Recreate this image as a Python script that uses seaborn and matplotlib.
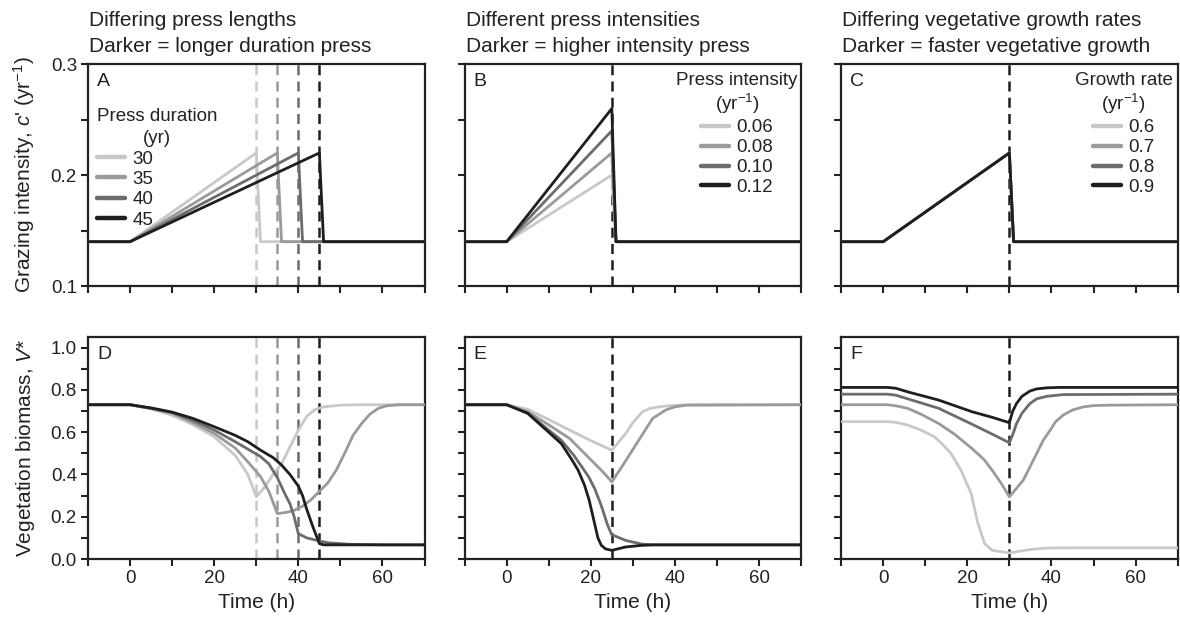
import pandas as pd
import matplotlib
matplotlib.use("Agg")
import matplotlib.pyplot as plt
import seaborn as sns
from matplotlib.lines import Line2D

# grey ramp, light -> dark
grays = ["#c8c8c8", "#9a9a9a", "#6c6c6c", "#1e1e1e"]

# ---- top row: grazing intensity (yr^-1) ----
A_labels = ["30", "35", "40", "45"]
A_press_end = [30, 35, 40, 45]
A_t = [[-10, 0, 30, 31, 70], [-10, 0, 35, 36, 70], [-10, 0, 40, 41, 70], [-10, 0, 45, 46, 70]]
A_c = [[0.14, 0.14, 0.22, 0.14, 0.14]] * 4

B_labels = ["0.06", "0.08", "0.10", "0.12"]
B_t = [[-10, 0, 25, 26, 70]] * 4
B_c = [[0.14, 0.14, 0.20, 0.14, 0.14],
       [0.14, 0.14, 0.22, 0.14, 0.14],
       [0.14, 0.14, 0.24, 0.14, 0.14],
       [0.14, 0.14, 0.26, 0.14, 0.14]]

C_labels = ["0.6", "0.7", "0.8", "0.9"]
C_t = [[-10, 0, 30, 31, 70]] * 4
C_c = [[0.14, 0.14, 0.22, 0.14, 0.14]] * 4

# ---- bottom row: vegetation biomass V* ----
D_t = [
    [-10, 0, 5, 10, 15, 20, 25, 28, 30, 32, 34, 36, 38, 40, 42, 44, 46, 50, 55, 70],
    [-10, 0, 5, 10, 15, 20, 25, 28, 31, 33, 35, 37, 39, 41, 43, 45, 47, 49, 51, 53, 55, 57, 59, 61, 64, 70],
    [-10, 0, 5, 10, 15, 20, 25, 28, 31, 33, 35, 37, 38, 39, 40, 42, 44, 47, 52, 60, 70],
    [-10, 0, 5, 10, 15, 20, 25, 28, 31, 34, 36, 38, 40, 41, 42, 43.5, 45, 46, 70],
]
D_v = [
    [0.73, 0.73, 0.71, 0.68, 0.635, 0.578, 0.49, 0.40, 0.295, 0.34, 0.40, 0.45, 0.53, 0.61,
     0.675, 0.708, 0.72, 0.728, 0.73, 0.73],
    [0.73, 0.73, 0.712, 0.69, 0.645, 0.594, 0.525, 0.46, 0.39, 0.32, 0.215, 0.22, 0.23, 0.25,
     0.28, 0.32, 0.36, 0.42, 0.50, 0.585, 0.64, 0.685, 0.713, 0.725, 0.73, 0.73],
    [0.73, 0.73, 0.713, 0.693, 0.655, 0.61, 0.555, 0.52, 0.485, 0.45, 0.385, 0.30, 0.262, 0.20,
     0.12, 0.10, 0.09, 0.077, 0.07, 0.067, 0.067],
    [0.73, 0.73, 0.715, 0.695, 0.665, 0.626, 0.585, 0.555, 0.515, 0.48, 0.445, 0.40, 0.345,
     0.30, 0.235, 0.15, 0.073, 0.067, 0.067],
]

E_t = [
    [-10, 0, 5, 10, 15, 20, 25, 26.5, 28.3, 30, 32.3, 34, 36.2, 38.5, 41, 45, 70],
    [-10, 0, 5, 10, 15, 20, 23, 25, 27.5, 29.9, 32.3, 34.7, 37.8, 40, 42.6, 70],
    [-10, 0, 5, 10, 13, 16, 19.5, 21, 22.6, 24, 25, 28.3, 32.3, 36, 70],
    [-10, 0, 5, 10, 13, 15.5, 17, 18.5, 19.6, 20.3, 21, 21.7, 22.5, 23.5, 25, 28.3, 32.3, 36, 70],
]
E_v = [
    [0.73, 0.73, 0.708, 0.66, 0.61, 0.56, 0.515, 0.55, 0.594, 0.645, 0.697, 0.712, 0.72,
     0.725, 0.728, 0.73, 0.73],
    [0.73, 0.73, 0.697, 0.635, 0.57, 0.47, 0.41, 0.365, 0.44, 0.515, 0.59, 0.665, 0.705,
     0.72, 0.728, 0.73],
    [0.73, 0.73, 0.692, 0.61, 0.562, 0.49, 0.389, 0.33, 0.247, 0.16, 0.115, 0.088, 0.07,
     0.067, 0.067],
    [0.73, 0.73, 0.689, 0.60, 0.546, 0.47, 0.42, 0.35, 0.28, 0.22, 0.16, 0.10, 0.065, 0.048,
     0.041, 0.057, 0.065, 0.067, 0.067],
]

F_t = [
    [-10, 1, 3, 5.8, 9, 12.2, 14, 16.1, 18.5, 20.9, 22.5, 24.1, 25.9, 30, 34.9, 38.9, 45, 70],
    [-10, 1, 3, 5.8, 9, 13.2, 17, 21.1, 24, 25.9, 28, 30, 31.5, 33.3, 35, 36.5, 38, 39.7, 41,
     42.8, 45, 47.6, 50, 53.9, 70],
    [-10, 1, 3, 6, 13.2, 21.1, 26, 30, 31, 31.7, 33, 34.9, 36.5, 38.9, 42.8, 70],
    [-10, 1, 3, 6, 13.2, 21.1, 26, 30, 30.8, 31.7, 33, 34.9, 36.5, 38.9, 42, 70],
]
F_v = [
    [0.65, 0.65, 0.647, 0.634, 0.61, 0.578, 0.545, 0.50, 0.42, 0.31, 0.17, 0.073, 0.041, 0.029,
     0.045, 0.052, 0.053, 0.053],
    [0.73, 0.73, 0.725, 0.713, 0.685, 0.641, 0.59, 0.523, 0.47, 0.42, 0.36, 0.294, 0.33, 0.373,
     0.44, 0.50, 0.56, 0.61, 0.65, 0.681, 0.705, 0.72, 0.726, 0.728, 0.73],
    [0.78, 0.78, 0.775, 0.757, 0.713, 0.638, 0.59, 0.55, 0.60, 0.641, 0.69, 0.736, 0.758,
     0.77, 0.778, 0.78],
    [0.812, 0.812, 0.808, 0.79, 0.752, 0.697, 0.67, 0.645, 0.70, 0.736, 0.77, 0.795, 0.805,
     0.81, 0.812, 0.812],
]

titles = [("Differing press lengths", "Darker = longer duration press"),
          ("Different press intensities", "Darker = higher intensity press"),
          ("Differing vegetative growth rates", "Darker = faster vegetative growth")]
legend_titles = ["Press duration\n(yr)", "Press intensity\n(yr$^{-1}$)", "Growth rate\n(yr$^{-1}$)"]


def long_frame(times, values, labels):
    parts = []
    for t, v, lab in zip(times, values, labels):
        parts.append(pd.DataFrame({"time": t, "value": v, "series": lab}))
    return pd.concat(parts, ignore_index=True)


sns.set_theme(style="ticks")
plt.rcParams["font.family"] = ["Liberation Sans", "DejaVu Sans"]
plt.rcParams["mathtext.fontset"] = "custom"
plt.rcParams["mathtext.rm"] = "Liberation Sans"
plt.rcParams["mathtext.it"] = "Liberation Sans:italic"
plt.rcParams["text.color"] = "#222222"
plt.rcParams["axes.labelcolor"] = "#222222"

fig, axes = plt.subplots(2, 3, figsize=(11.8, 6.23), dpi=100)
fig.subplots_adjust(left=0.0746, right=0.998, top=0.897, bottom=0.1027,
                    wspace=0.119, hspace=0.23)

top_sets = [(A_t, A_c, A_labels), (B_t, B_c, B_labels), (C_t, C_c, C_labels)]
bot_sets = [(D_t, D_v, A_labels), (E_t, E_v, B_labels), (F_t, F_v, C_labels)]
press_lines = [list(zip(A_press_end, grays)), [(25, "#1e1e1e")], [(30, "#1e1e1e")]]
letters = [["A", "B", "C"], ["D", "E", "F"]]

for row in range(2):
    for col in range(3):
        ax = axes[row, col]
        t, v, labs = (top_sets if row == 0 else bot_sets)[col]
        df = long_frame(t, v, labs)
        for x0, c in press_lines[col]:
            ax.axvline(x0, color=c, lw=1.8, dashes=(4, 2.5), zorder=1)
        sns.lineplot(data=df, x="time", y="value", hue="series", hue_order=labs,
                     palette=grays, estimator=None, sort=False, linewidth=2.0,
                     legend=False, ax=ax, zorder=3)
        ax.set_xlim(-10, 70)
        ax.set_xticks(range(-10, 71, 10))
        if row == 1:
            ax.set_xticklabels(["" if k % 20 else str(k) for k in range(-10, 71, 10)])
            ax.set_xlabel("Time (h)", fontsize=15, labelpad=4)
            ax.set_ylim(0, 1.05)
            ax.set_yticks([i / 10 for i in range(0, 11)])
            ax.set_yticklabels(["%.1f" % (i / 10) if i % 2 == 0 else "" for i in range(0, 11)])
        else:
            ax.set_xticklabels([])
            ax.set_xlabel("")
            ax.set_ylim(0.1, 0.3)
            ax.set_yticks([0.1, 0.15, 0.2, 0.25, 0.3])
            ax.set_yticklabels(["0.1", "", "0.2", "", "0.3"])
        if col > 0:
            ax.set_yticklabels([])
            ax.set_ylabel("")
        ax.tick_params(direction="out", length=5, width=1.5, labelsize=13.5,
                       colors="#222222", pad=3)
        for sp in ax.spines.values():
            sp.set_linewidth(1.6)
            sp.set_color("#222222")
        ax.text(0.027, 0.92, letters[row][col], transform=ax.transAxes,
                fontsize=14, va="center", ha="left")

axes[0, 0].set_ylabel("Grazing intensity, $c$' (yr$^{-1}$)", fontsize=15, labelpad=10)
axes[1, 0].set_ylabel("Vegetation biomass, $V$*", fontsize=15, labelpad=10)

for col in range(3):
    ax = axes[0, col]
    ax.text(0.004, 1.171, titles[col][0], transform=ax.transAxes, fontsize=15,
            ha="left", va="baseline")
    ax.text(0.004, 1.054, titles[col][1], transform=ax.transAxes, fontsize=15,
            ha="left", va="baseline")

    handles = [Line2D([], [], color=g, lw=3.2) for g in grays]
    labs = top_sets[col][2]
    kw = dict(title=legend_titles[col], frameon=False, fontsize=13.5, title_fontsize=13.5,
              handlelength=1.5, handletextpad=0.4, borderpad=0.1, borderaxespad=0.0)
    if col == 0:
        leg = ax.legend(handles, labs, loc="upper left", bbox_to_anchor=(0.02, 0.81),
                        alignment="left", labelspacing=0.17, **kw)
        leg.get_title().set_linespacing(1.4)
    else:
        anchor_x = 0.995 if col == 1 else 0.99
        leg = ax.legend(handles, labs, loc="upper right", bbox_to_anchor=(anchor_x, 0.975),
                        alignment="center", labelspacing=0.15, **kw)
    leg.get_title().set_multialignment("center")

fig.savefig("out.png", dpi=100)
